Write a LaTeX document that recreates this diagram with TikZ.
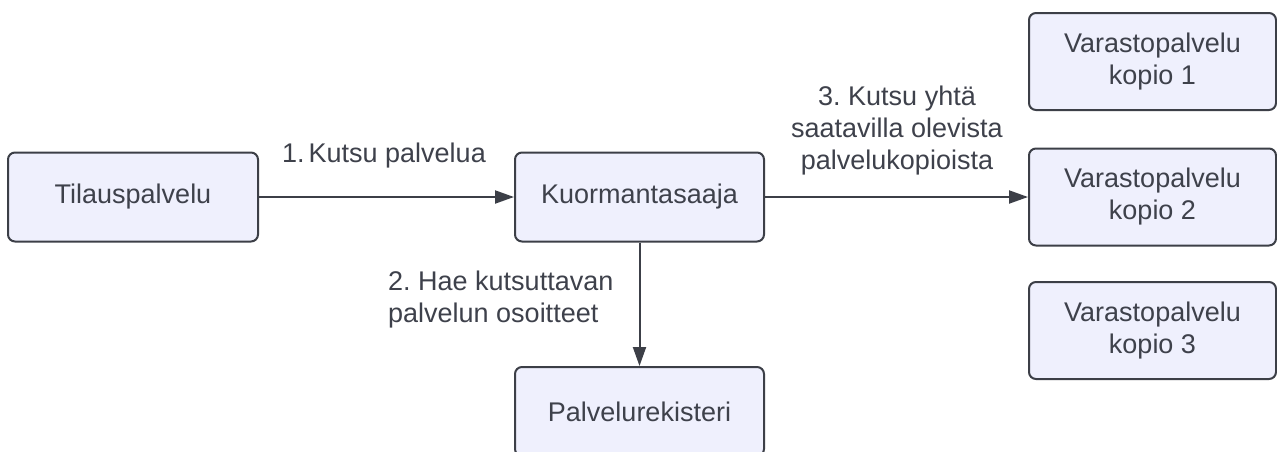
\documentclass[tikz,border=0pt]{standalone}
\usepackage{fontspec}
\setmainfont{Liberation Sans}
\frenchspacing
\usetikzlibrary{arrows.meta}
\definecolor{boxfill}{RGB}{239,240,253}
\definecolor{ink}{RGB}{60,63,71}
\definecolor{txt}{RGB}{62,65,75}
\tikzset{
  svcbox/.style={draw=ink, fill=boxfill, line width=2pt, rounded corners=7pt,
    inner sep=0pt, align=center, text=txt,
    font=\fontsize{27}{32}\selectfont},
  lbl/.style={text=txt, inner sep=0pt, font=\fontsize{27}{32}\selectfont},
  flow/.style={draw=ink, line width=2pt, -{Triangle[length=19pt,width=13pt]}}
}
\begin{document}
\begin{tikzpicture}[x=1pt,y=-1pt]
  \clip (0,0) rectangle (1277,451);
  \fill[white] (0,0) rectangle (1277,451);

  % services
  \node[svcbox, minimum width=250pt, minimum height=89pt] (tilaus) at (133,197) {Tilauspalvelu};
  \node[svcbox, minimum width=249pt, minimum height=89pt] (lb) at (639.5,197) {Kuormantasaaja};
  \node[svcbox, minimum width=249pt, minimum height=89pt] (reg) at (639.5,411.5) {Palvelurekisteri};
  \node[svcbox, minimum width=247pt, minimum height=97pt] (v1) at (1152.5,61.5) {Varastopalvelu\\kopio 1};
  \node[svcbox, minimum width=247pt, minimum height=97pt] (v2) at (1152.5,197) {Varastopalvelu\\kopio 2};
  \node[svcbox, minimum width=247pt, minimum height=97pt] (v3) at (1152.5,330.5) {Varastopalvelu\\kopio 3};

  % calls
  \draw[flow] (tilaus.east) -- (lb.west);
  \draw[flow] (lb.south) -- (reg.north);
  \draw[flow] (lb.east) -- (v2.west);

  % step labels
  \node[lbl] (l1) at (384,156) {1.\hspace{4pt}Kutsu palvelua};
  \node[lbl, align=left, anchor=west] (l2) at (388,300) {2. Hae kutsuttavan\\palvelun osoitteet};
  \node[lbl, align=center] (l3) at (897,131) {3. Kutsu yhtä\\saatavilla olevista\\palvelukopioista};
\end{tikzpicture}
\end{document}
